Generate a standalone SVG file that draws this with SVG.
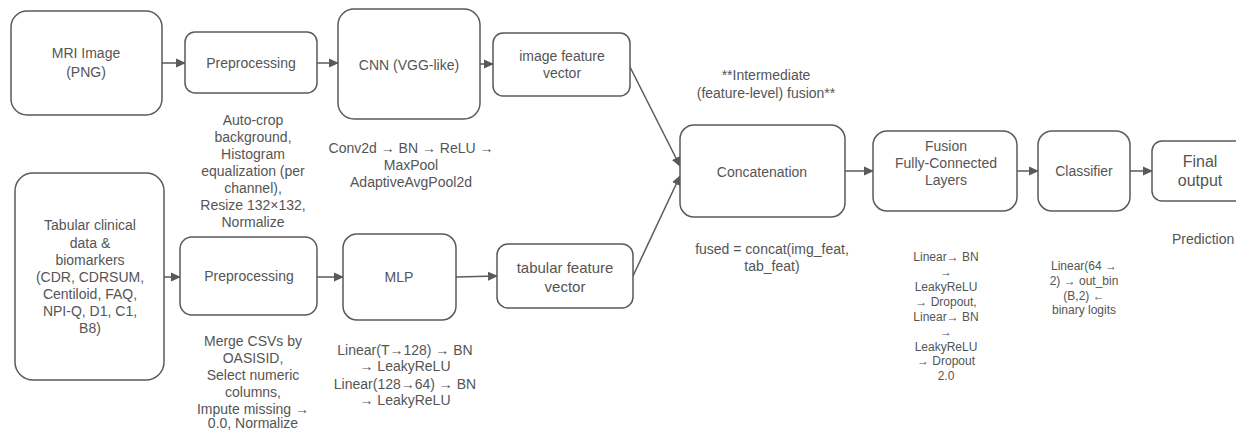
<svg xmlns="http://www.w3.org/2000/svg" width="1236" height="431" viewBox="0 0 1236 431">
<style>
.n{fill:#fff;stroke:#5a5a5a;stroke-width:1.5}
text{font-family:"Liberation Sans",Arial,sans-serif;fill:#555;text-anchor:middle}
.t14{font-size:14px}
.t15{font-size:15px}
.t16{font-size:16px}
.t12{font-size:12px}
.c{stroke:#5a5a5a;stroke-width:1.5;fill:none;marker-end:url(#ah)}
</style>
<defs>
<marker id="ah" markerWidth="10" markerHeight="10" refX="9" refY="5" orient="auto" markerUnits="userSpaceOnUse">
<path d="M0,0.5 L10,5 L0,9.5 Z" fill="#5a5a5a"/>
</marker>
</defs>
<rect width="1236" height="431" fill="#fff"/>
<g id="connectors">
<line class="c" x1="162" y1="63" x2="185" y2="63"/>
<line class="c" x1="317" y1="63" x2="338" y2="63"/>
<line class="c" x1="480" y1="64" x2="493" y2="64"/>
<line class="c" x1="164" y1="277" x2="180" y2="277"/>
<line class="c" x1="317" y1="277" x2="343" y2="277"/>
<line class="c" x1="456" y1="277" x2="497" y2="276"/>
<line class="c" x1="630" y1="67" x2="680" y2="166"/>
<line class="c" x1="633" y1="276" x2="680" y2="176"/>
<line class="c" x1="845" y1="171" x2="873" y2="171"/>
<line class="c" x1="1017" y1="171" x2="1038" y2="171"/>
<line class="c" x1="1130" y1="171" x2="1152" y2="171"/>
</g>
<g id="mri">
<rect class="n" x="11" y="11" width="151" height="104" rx="16"/>
<text class="t14" x="86" y="58">MRI Image</text>
<text class="t14" x="86" y="77">(PNG)</text>
</g>
<g id="prep1">
<rect class="n" x="185" y="32" width="132" height="61" rx="10"/>
<text class="t14" x="251" y="68">Preprocessing</text>
</g>
<g id="prep1note">
<text class="t14"><tspan x="253" y="125">Auto-crop</tspan><tspan x="253" y="142">background,</tspan><tspan x="253" y="159">Histogram</tspan><tspan x="253" y="176">equalization (per</tspan><tspan x="253" y="193">channel),</tspan><tspan x="253" y="210">Resize 132×132,</tspan><tspan x="253" y="227">Normalize</tspan></text>
</g>
<g id="cnn">
<rect class="n" x="338" y="9" width="142" height="110" rx="16"/>
<text class="t14" x="409" y="70">CNN (VGG-like)</text>
</g>
<g id="cnnnote">
<text class="t14"><tspan x="411" y="153">Conv2d → BN → ReLU →</tspan><tspan x="411" y="170">MaxPool</tspan><tspan x="411" y="187">AdaptiveAvgPool2d</tspan></text>
</g>
<g id="imgfeat">
<rect class="n" x="493" y="33" width="137" height="63" rx="10"/>
<text class="t14" x="562" y="61">image feature</text>
<text class="t14" x="562" y="78">vector</text>
</g>
<g id="tab">
<rect class="n" x="15" y="173" width="149" height="207" rx="18"/>
<text class="t14"><tspan x="90" y="230">Tabular clinical</tspan><tspan x="90" y="248">data &amp;</tspan><tspan x="90" y="265">biomarkers</tspan><tspan x="90" y="282">(CDR, CDRSUM,</tspan><tspan x="90" y="299">Centiloid, FAQ,</tspan><tspan x="90" y="316">NPI-Q, D1, C1,</tspan><tspan x="90" y="333">B8)</tspan></text>
</g>
<g id="prep2">
<rect class="n" x="180" y="237" width="137" height="78" rx="12"/>
<text class="t14" x="249" y="281">Preprocessing</text>
</g>
<g id="prep2note">
<text class="t14"><tspan x="253" y="346">Merge CSVs by</tspan><tspan x="253" y="363">OASISID,</tspan><tspan x="253" y="380">Select numeric</tspan><tspan x="253" y="397">columns,</tspan><tspan x="253" y="414">Impute missing →</tspan><tspan x="253" y="428">0.0, Normalize</tspan></text>
</g>
<g id="mlp">
<rect class="n" x="343" y="234" width="113" height="86" rx="14"/>
<text class="t14" x="399" y="282">MLP</text>
</g>
<g id="mlpnote">
<text class="t14"><tspan x="405" y="355">Linear(T→128) → BN</tspan><tspan x="405" y="371">→ LeakyReLU</tspan><tspan x="405" y="389">Linear(128→64) → BN</tspan><tspan x="405" y="405">→ LeakyReLU</tspan></text>
</g>
<g id="tabfeat">
<rect class="n" x="497" y="244" width="136" height="64" rx="11"/>
<text class="t15" x="565" y="273">tabular feature</text>
<text class="t15" x="565" y="292">vector</text>
</g>
<g id="fusionnote">
<text class="t14"><tspan x="766" y="80">**Intermediate</tspan><tspan x="766" y="98">(feature-level) fusion**</tspan></text>
</g>
<g id="concat">
<rect class="n" x="680" y="125" width="165" height="92" rx="14"/>
<text class="t14" x="762" y="177">Concatenation</text>
</g>
<g id="concatnote">
<text class="t14"><tspan x="772" y="254">fused = concat(img_feat,</tspan><tspan x="772" y="271">tab_feat)</tspan></text>
</g>
<g id="fusion">
<rect class="n" x="873" y="131" width="144" height="80" rx="14"/>
<text class="t14"><tspan x="946" y="151">Fusion</tspan><tspan x="946" y="168">Fully-Connected</tspan><tspan x="946" y="185">Layers</tspan></text>
</g>
<g id="fcnote">
<text class="t12"><tspan x="946" y="261">Linear→ BN</tspan><tspan x="946" y="276">→</tspan><tspan x="946" y="291">LeakyReLU</tspan><tspan x="946" y="306">→ Dropout,</tspan><tspan x="946" y="321">Linear→ BN</tspan><tspan x="946" y="336">→</tspan><tspan x="946" y="351">LeakyReLU</tspan><tspan x="946" y="365">→ Dropout</tspan><tspan x="946" y="380">2.0</tspan></text>
</g>
<g id="classifier">
<rect class="n" x="1038" y="131" width="92" height="80" rx="14"/>
<text class="t14" x="1084" y="176">Classifier</text>
</g>
<g id="clsnote">
<text class="t12"><tspan x="1084" y="270">Linear(64 →</tspan><tspan x="1084" y="285">2) → out_bin</tspan><tspan x="1084" y="300">(B,2)  ←</tspan><tspan x="1084" y="314">binary logits</tspan></text>
</g>
<g id="final">
<rect class="n" x="1152" y="141" width="100" height="60" rx="10"/>
<text class="t16" x="1200" y="167">Final</text>
<text class="t16" x="1200" y="186">output</text>
</g>
<g id="prediction">
<text class="t14" x="1172" y="244" style="text-anchor:start">Prediction</text>
</g>
</svg>
